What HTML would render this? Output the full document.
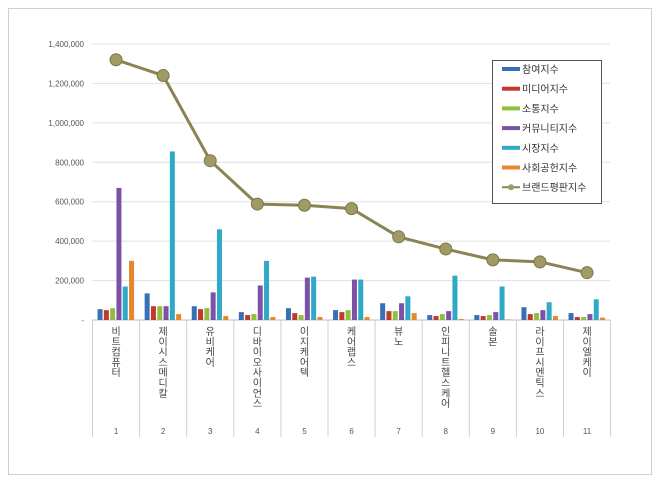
<!DOCTYPE html>
<html><head><meta charset="utf-8"><style>
body{margin:0;background:#fff}
svg{display:block;font-family:"Liberation Sans","Noto Sans CJK KR",sans-serif}
</style></head><body>
<svg id="s" width="660" height="481" xmlns="http://www.w3.org/2000/svg">
<rect x="8.5" y="8.5" width="643" height="466" fill="#fff" stroke="#d0d0d0"/>
<g id="g"></g>
</svg>
<script>
const g=document.getElementById('g');
let h='';
const y0=320,k=276/1400000,L=92.5,W=47.1;
for(let i=0;i<=7;i++){const y=y0-i*200000*k;
 h+=`<line x1="92" x2="610" y1="${y}" y2="${y}" stroke="#e0e0e0"/>`;
 const lab=i==0?'-':(i*200000).toLocaleString('en-US');
 h+=`<text x="84" y="${y+3}" font-size="8" text-anchor="end" fill="#555">${lab}</text>`;}
h+=`<line x1="92" x2="610" y1="${y0}" y2="${y0}" stroke="#bfbfbf"/>`;
for(let i=0;i<=11;i++){const x=L+i*W;h+=`<line x1="${x}" x2="${x}" y1="${y0}" y2="437" stroke="#d0d0d0"/>`;}
const cols=['#3a6fb5','#c0392b','#8fbf3f','#7b52a8','#2fa9c6','#e8862a'];
const data=[[55,50,60,670,170,300],[135,70,70,70,855,30],[70,55,60,140,460,20],[40,25,30,175,300,15],[60,35,25,215,220,15],[50,40,50,205,205,15],[85,45,45,85,120,35],[25,20,30,45,225,5],[25,20,25,40,170,3],[65,30,35,50,90,20],[35,15,15,30,105,12]];
const line=[1320,1240,808,588,582,565,422,360,305,295,240];
const names=['비트컴퓨터','제이시스메디칼','유비케어','디바이오사이언스','이지케어텍','케어랩스','뷰노','인피니트헬스케어','솔본','라이프시멘틱스','제이엘케이'];
data.forEach((d,i)=>{const c=L+i*W+W/2;
 d.forEach((v,j)=>{const hh=v*1000*k,x=c-18.5+j*6.3;
  h+=`<rect x="${x}" y="${y0-hh}" width="5" height="${hh}" fill="${cols[j]}"/>`;});
 h+=`<text x="${c}" y="434" font-size="8" text-anchor="middle" fill="#555">${i+1}</text>`;
 let t='';[...names[i]].forEach((ch,m)=>{t+=`<tspan x="${c}" y="${335+m*10.3}">${ch}</tspan>`;});
 h+=`<text font-size="10" text-anchor="middle" fill="#444">${t}</text>`;});
let pts=line.map((v,i)=>`${L+i*W+W/2},${y0-v*1000*k}`).join(' ');
h+=`<polyline points="${pts}" fill="none" stroke="#8a8455" stroke-width="3"/>`;
line.forEach((v,i)=>{h+=`<circle cx="${L+i*W+W/2}" cy="${y0-v*1000*k}" r="6" fill="#a09a65" stroke="#7d7748"/>`;});
h+=`<rect x="492.5" y="60.5" width="109" height="143" fill="#fff" stroke="#555"/>`;
const ln=['참여지수','미디어지수','소통지수','커뮤니티지수','시장지수','사회공헌지수','브랜드평판지수'];
ln.forEach((n,i)=>{const y=69+i*19.7;
 if(i<6)h+=`<rect x="502" y="${y-2}" width="18" height="4" fill="${cols[i]}"/>`;
 else h+=`<line x1="502" x2="520" y1="${y}" y2="${y}" stroke="#8a8455" stroke-width="2"/><circle cx="511" cy="${y}" r="3" fill="#a09a65"/>`;
 h+=`<text x="522" y="${y+4}" font-size="10" fill="#333">${n}</text>`;});
g.innerHTML=h;
</script>
</body></html>
